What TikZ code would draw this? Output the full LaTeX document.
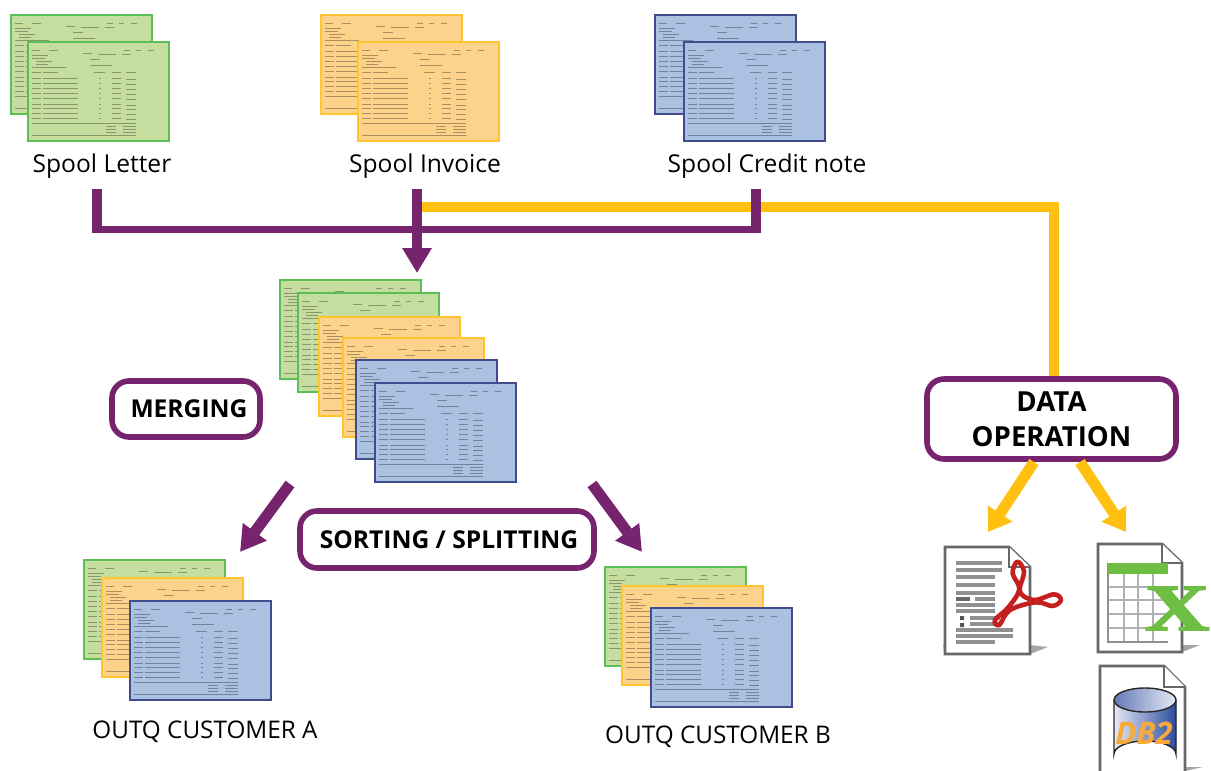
\documentclass[tikz,border=0pt]{standalone}
\usepackage{fontspec}
\setmainfont{Open Sans}
\newfontfamily\serifx[BoldFeatures={FakeBold=2.5}]{Liberation Serif}
\usetikzlibrary{arrows.meta}
\definecolor{purp}{HTML}{76246E}
\definecolor{yel}{HTML}{FFC00F}
\definecolor{gfill}{HTML}{C6DDA0}
\definecolor{gline}{HTML}{5CBF55}
\definecolor{ofill}{HTML}{FDD28A}
\definecolor{oline}{HTML}{FFC42E}
\definecolor{bfill}{HTML}{AAC1E2}
\definecolor{bline}{HTML}{414B8E}
\definecolor{docline}{HTML}{666869}
\definecolor{docbar}{HTML}{8E9092}
\definecolor{xgreen}{HTML}{6EBE44}
\definecolor{pdfred}{HTML}{C4201F}
\definecolor{cylleft}{HTML}{E6E9F4}
\definecolor{cylright}{HTML}{2C4C9F}
\definecolor{dbtext}{HTML}{F8A93A}
\tikzset{
  x=1pt,y=-1pt,
  label text/.style={font=\fontsize{24.6}{28}\selectfont,text=black,inner sep=0pt,anchor=center},
  outq text/.style={font=\fontsize{24.3}{28}\selectfont,text=black,inner sep=0pt,anchor=center},
  tag box/.style={draw=purp,line width=5.6pt,rounded corners=17pt,fill=white,inner sep=0pt,align=center,font=\fontsize{24.6}{34}\selectfont\bfseries,text=black},
  purple arrow/.style={draw=purp,line width=11pt,-{Triangle[length=25pt,width=28pt]}},
  yellow bar/.style={draw=yel,line width=10pt,line join=miter},
  yellow arrow/.style={draw=yel,line width=11pt,-{Triangle[length=22pt,width=28pt]}},
  doc/.style={draw=docline,line width=2.8pt,fill=white,line join=miter},
  bar/.style={draw=docbar,line width=3.4pt},
}
% a report sheet: #1 x, #2 y, #3 fill, #4 border
\newcommand\sheet[4]{%
 \begin{scope}[shift={(#1,#2)}]
  \fill[#3] (0,0) rectangle (141,99);
  \draw[#4,line width=1.8pt] (0,0) rectangle (141,99);
  \begin{scope}[draw=black!32!#3,line width=.9pt]
   \draw (4,8)--(12,8) (21,8)--(30,8) (96,8)--(102,8) (108,8)--(113,8) (120,8)--(126,8);
   \draw (55,11)--(64,11) (70,12)--(88,12) (94,12)--(103,12);
   \draw (4,13)--(20,13) (4,16)--(17,16) (8,19)--(24,19) (62,17)--(72,17);
   \draw (8,22)--(20,22) (62,23)--(84,23) (4,25)--(38,25);
   \draw (4,30)--(13,30) (15,30)--(30,30) (66,30)--(77,30) (84,30)--(93,30) (98,30)--(108,30);
   \foreach \r in {36,41,46,51,56,62,66,71,76}{
     \draw (4,\r)--(13,\r) (15,\r)--(50,\r) (71,\r)--(73,\r) (84,\r)--(93,\r);
     \draw (98,\r+1.5)--(108,\r+1.5);
   }
   \draw[line width=.6pt] (4,81)--(108,81) (4,93)--(108,93);
   \foreach \r in {84,87,90}{\draw (78,\r)--(88,\r) (95,\r)--(108,\r);}
  \end{scope}
 \end{scope}}
\newcommand\gsheet[2]{\sheet{#1}{#2}{gfill}{gline}}
\newcommand\osheet[2]{\sheet{#1}{#2}{ofill}{oline}}
\newcommand\bsheet[2]{\sheet{#1}{#2}{bfill}{bline}}
\begin{document}
\begin{tikzpicture}
\useasboundingbox (0,0) rectangle (1211,771);
\fill[white] (0,0) rectangle (1211,771);
% spools
\gsheet{11}{15}\gsheet{28}{42}
\osheet{321}{15}\osheet{358}{42}
\bsheet{655}{15}\bsheet{684}{42}
\node[label text] (letter) at (102,166) {Spool Letter};
\node[label text] (invoice) at (425,166) {Spool Invoice};
\node[label text] (credit) at (767,166) {Spool Credit note};
% merged stack
\gsheet{280}{280}\gsheet{298}{293}\osheet{319}{317}\osheet{343}{338}\bsheet{356}{360}\bsheet{375}{383}
% customer stacks
\gsheet{84}{560}\osheet{102}{578}\bsheet{130}{601}
\gsheet{605}{567}\osheet{622}{586}\bsheet{651}{608}
\node[outq text] (custa) at (205,732) {OUTQ CUSTOMER A};
\node[outq text] (custb) at (718,737) {OUTQ CUSTOMER B};
% boxes
\node[tag box,minimum width=148pt,minimum height=56pt] (merging) at (186,409) {\hspace*{6pt}MERGING};
\node[tag box,minimum width=294pt,minimum height=57pt] (sorting) at (447,539.5) {\hspace*{4pt}SORTING / SPLITTING};
\node[tag box,minimum width=249pt,minimum height=80pt,font=\fontsize{27.6}{35}\selectfont\bfseries] (dataop) at (1051.5,419) {DATA\\OPERATION};
% connector ends
\coordinate (c1) at (97,189);
\coordinate (c2) at (97,229);
\coordinate (c3) at (756,229);
\coordinate (c4) at (756,189);
\coordinate (c5) at (417,189);
\coordinate (c6) at (417,273);
\coordinate (y1) at (417,207);
\coordinate (y2) at (1054,207);
\coordinate (m1) at (290,484);
\coordinate (m2) at (240,552);
\coordinate (m3) at (592,484);
\coordinate (m4) at (642,552);
\coordinate (d1) at (1034,462);
\coordinate (d2) at (988,532);
\coordinate (d3) at (1080,462);
\coordinate (d4) at (1126,532);
% yellow line
\draw[yellow bar] (y1) -| (y2) -- (dataop.north -| y2);
% purple lines
\draw[draw=purp,line width=7pt] (c2) -- (c3);
\draw[draw=purp,line width=10pt] (c1) -- ([yshift=-3.5pt]c2);
\draw[draw=purp,line width=10pt] (c4) -- ([yshift=-3.5pt]c3);
\draw[purple arrow,line width=10pt] (c5) -- (c6);
\draw[purple arrow] (m1) -- (m2);
\draw[purple arrow] (m3) -- (m4);
\draw[yellow arrow] (d1) -- (d2);
\draw[yellow arrow] (d3) -- (d4);
% PDF icon
\fill[black!35] (945,654) -- (943,645) -- (1030,645) -- (1048,647) -- (1030,654) -- cycle;
\draw[doc] (945,547) -- (1009,547) -- (1030,567) -- (1030,654) -- (945,654) -- cycle;
\draw[doc,line width=2.4pt] (1009,547) -- (1009,567) -- (1030,567);
\foreach \a/\b/\yy in {956/1002/563,956/1002/570,956/995/577,956/995/585,956/995/593,975/995/599,956/995/605,956/995/611,970/1000/618,970/1000/624,956/1013/630,956/1013/636,956/995/642}{
  \draw[bar] (\a,\yy) -- (\b,\yy);
}
\draw[docline,line width=3.4pt] (956,599) -- (970,599);
\fill[docline!80!black] (960,616) rectangle (964,620) (960,623) rectangle (964,627);
\begin{scope}[shift={(930,530)},x=.3333pt,y=-.3333pt]
\draw[pdfred,line width=4.6pt,line join=round] plot[smooth cycle,tension=.6] coordinates {(248,130) (262,95) (282,125) (270,185) (312,210) (372,193) (393,210) (368,228) (318,217) (240,240) (208,285) (195,270) (235,232) (268,178) };
\end{scope}
% Excel icon
\fill[black!35] (1182,652) -- (1200,645) -- (1182,645) -- cycle;
\draw[doc] (1098,544) -- (1162,544) -- (1182,563) -- (1182,652) -- (1098,652) -- cycle;
\draw[doc,line width=2.4pt] (1162,544) -- (1162,563) -- (1182,563);
\fill[white] (1108,563) rectangle (1168,642);
\foreach \g in {1124,1138,1153}{\draw[black!30,line width=1.6pt] (\g,573) -- (\g,642);}
\foreach \g in {587,600,614,628}{\draw[black!30,line width=1.6pt] (1108,\g) -- (1168,\g);}
\draw[docbar,line width=2pt] (1168,642) -- (1108,642) -- (1108,563);
\fill[xgreen] (1108,563) rectangle (1168,574);
\node[inner sep=0pt,text=xgreen,font=\fontsize{66}{66}\selectfont\serifx\bfseries,xscale=1.35] (xl) at (1177,608.5) {X};
% DB2 icon
\fill[black!35] (1185,771) -- (1203,767) -- (1185,767) -- cycle;
\draw[doc] (1100,666) -- (1164,666) -- (1185,687) -- (1185,775) -- (1100,775) -- cycle;
\draw[doc,line width=2.4pt] (1164,666) -- (1164,687) -- (1185,687);
\shade[left color=cylleft,right color=cylright] (1114,700) -- (1114,754) arc[start angle=180,end angle=360,x radius=31,y radius=13] -- (1176,700) arc[start angle=0,end angle=180,x radius=31,y radius=12];
\draw[black!85,line width=1.4pt] (1114,700) -- (1114,754) arc[start angle=180,end angle=360,x radius=31,y radius=13] -- (1176,700);
\shade[left color=cylright!70!cylleft,right color=cylleft] (1145,700) ellipse[x radius=31,y radius=12];
\draw[black!85,line width=1.4pt] (1145,700) ellipse[x radius=31,y radius=12];
\node[inner sep=0pt,text=dbtext,font=\fontsize{31}{31}\selectfont\bfseries\itshape] (dbtxt) at (1144,733) {DB2};
\end{tikzpicture}
\end{document}
